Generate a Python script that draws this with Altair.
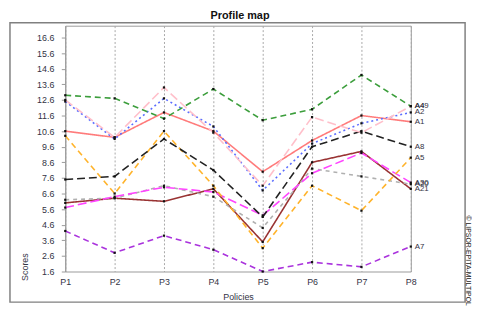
import altair as alt
import pandas as pd

policies = ["P1", "P2", "P3", "P4", "P5", "P6", "P7", "P8"]

a49 = [12.9, 12.7, 11.4, 13.3, 11.3, 12.0, 14.2, 12.2]   # green dashed
a4 = [12.6, 10.2, 13.4, 10.5, 7.1, 11.5, 10.5, 12.2]     # light pink dashed
a2 = [12.5, 10.1, 12.7, 10.9, 6.8, 9.8, 11.1, 11.8]      # blue dotted
a1 = [10.6, 10.2, 11.8, 10.6, 8.0, 10.0, 11.6, 11.2]     # salmon solid
a8 = [7.5, 7.7, 10.1, 8.1, 5.1, 9.6, 10.6, 9.6]          # black dashed
a5 = [10.3, 6.6, 10.6, 7.1, 3.1, 7.1, 5.5, 8.9]          # orange dashed
a30 = [5.7, 6.4, 7.0, 6.7, 5.2, 7.9, 9.2, 7.3]           # magenta dashed
a20 = [6.2, 6.3, 7.1, 6.4, 4.4, 8.2, 7.7, 7.2]           # grey dashed
a21 = [6.0, 6.3, 6.1, 6.9, 3.5, 8.6, 9.3, 6.9]           # brown solid
a7 = [4.2, 2.8, 3.9, 3.0, 1.6, 2.2, 1.9, 3.2]            # purple dashed

series_names = ["A7", "A21", "A20", "A30", "A5", "A8", "A1", "A2", "A4", "A49"]
series_values = [a7, a21, a20, a30, a5, a8, a1, a2, a4, a49]

y_ticks = [1.6, 2.6, 3.6, 4.6, 5.6, 6.6, 7.6, 8.6, 9.6, 10.6, 11.6, 12.6, 13.6, 14.6, 15.6, 16.6]

colors = ["#aa33dd", "#993333", "#b0b0b0", "#ff44ff", "#ffb32a",
          "#222222", "#ff7b7b", "#5a6cff", "#ffbfca", "#3c9e3c"]
dashes = [[6, 4], [1, 0], [4, 4], [9, 4], [6, 4],
          [8, 4], [1, 0], [2, 3], [9, 4], [6, 4]]
widths = [1.6, 1.6, 1.4, 2.6, 1.8, 2.8, 1.6, 1.6, 2.2, 1.6]

rows = []
for name, vals in zip(series_names, series_values):
    for p, v in zip(policies, vals):
        rows.append({"s": name, "p": p, "v": v})
df = pd.DataFrame(rows)
df_end = df[df["p"] == "P8"]

FONT = "Liberation Sans"
TXT = "#333344"

x_enc = alt.X("p:N", sort=policies, scale=alt.Scale(type="point", padding=0),
              axis=alt.Axis(title="Policies", labelAngle=0, labelFont=FONT, labelFontSize=9,
                            labelColor=TXT, labelPadding=6, ticks=False, domain=False,
                            grid=True, gridDash=[2, 2], gridColor="#a8a8a8", gridWidth=1,
                            titleFont=FONT, titleFontSize=9, titleFontWeight="normal",
                            titleColor=TXT, titleY=25.5, titleBaseline="middle"))
y_enc = alt.Y("v:Q", scale=alt.Scale(domain=[1.6, 17.36], nice=False, zero=False),
              axis=alt.Axis(values=y_ticks, format=".1f", grid=False, tickSize=4,
                            tickColor="#999999", domainColor="#999999", labelFont=FONT,
                            labelFontSize=9, labelColor=TXT, labelPadding=7.5,
                            labelOverlap=False, labelBound=False, labelFlush=False,
                            title="Scores", titleFont=FONT, titleFontSize=9,
                            titleFontWeight="normal", titleColor=TXT, titleAngle=-90,
                            titleX=-41, titleY=244, titleAlign="center",
                            titleBaseline="middle"))

one = pd.DataFrame({"k": [0]})

frame = alt.Chart(one).mark_rect(filled=False, stroke="#808080", strokeWidth=1.5).encode(
    x=alt.value(-56), x2=alt.value(405), y=alt.value(-3), y2=alt.value(280))

lines = alt.Chart(df).mark_line().encode(
    x=x_enc, y=y_enc,
    color=alt.Color("s:N", scale=alt.Scale(domain=series_names, range=colors), legend=None),
    strokeDash=alt.StrokeDash("s:N", scale=alt.Scale(domain=series_names, range=dashes), legend=None),
    strokeWidth=alt.StrokeWidth("s:N", scale=alt.Scale(domain=series_names, range=widths), legend=None),
    order=alt.Order("p:N"),
)

points = alt.Chart(df).mark_square(size=5, color="#111111", opacity=1).encode(
    x=x_enc, y=y_enc)

labels = alt.Chart(df_end).mark_text(align="left", baseline="middle", dx=4, font=FONT,
                                     fontSize=8, color=TXT).encode(
    x=x_enc, y=y_enc, text="s:N")

title = alt.Chart(one).mark_text(text="Profile map", font=FONT, fontSize=11, fontWeight="bold",
                                 color="#111111", align="center", baseline="top").encode(
    x=alt.value(177), y=alt.value(-15.5))

copyright_txt = alt.Chart(one).mark_text(text="© LIPSOR-EPITA-MULTIPOL", font=FONT, fontSize=7,
                                         color="#222222", angle=90, align="center",
                                         baseline="middle").encode(
    x=alt.value(408), y=alt.value(238))

chart = alt.layer(frame, lines, points, labels, title, copyright_txt).properties(
    width=350, height=249,
    padding={"left": 58, "top": 16, "right": 62, "bottom": 33},
    autosize=alt.AutoSizeParams(type="none"),
    background="white",
).configure_view(stroke="#999999", strokeWidth=1)

chart.save("out.html", embed_options={"renderer": "svg", "actions": False})
